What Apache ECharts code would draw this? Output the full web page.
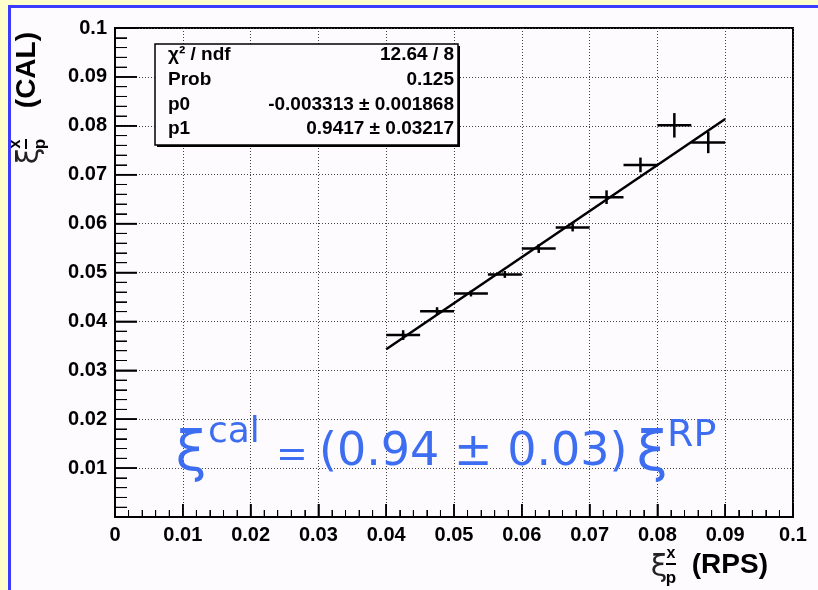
<!DOCTYPE html>
<html>
<head>
<meta charset="utf-8">
<script src="https://cdn.jsdelivr.net/npm/echarts@6.0.0/dist/echarts.min.js"></script>
<style>
  html, body { margin: 0; padding: 0; background: #ffffcc; }
  #wrap { position: relative; width: 818px; height: 590px; overflow: hidden; }
  #paper { position: absolute; left: 8px; top: 5px; width: 830px; height: 600px;
           background: #fefbfe; border: 3px solid #3c3cff; box-sizing: border-box; }
  #main { position: absolute; left: 0; top: 0; width: 818px; height: 590px; }
</style>
</head>
<body>
<div id="wrap"><div id="paper"></div><div id="main"></div></div>
<script>
// bin centres and measured xi (CAL) per bin
const xCenters = [0.0425, 0.0475, 0.0525, 0.0575, 0.0625, 0.0675, 0.0725, 0.0775, 0.0825, 0.0875];
const yValues = [0.0372, 0.0421, 0.0457, 0.0496, 0.0549, 0.0592, 0.0654, 0.0720, 0.0801, 0.0766];
const xHalfWidths = [0.0025, 0.0025, 0.0025, 0.0025, 0.0025, 0.0025, 0.0025, 0.0025, 0.0025, 0.0025];
const yErrors = [0.0010, 0.0008, 0.0006, 0.0007, 0.0009, 0.0008, 0.0014, 0.0015, 0.0025, 0.0022];

// fitted straight line, end points
const fitX = [0.04, 0.09];
const fitY = [0.0343, 0.0814];

// major tick positions (both axes), 5 minor divisions each
const xTickValues = [0, 0.01, 0.02, 0.03, 0.04, 0.05, 0.06, 0.07, 0.08, 0.09, 0.1];
const yTickValues = [0, 0.01, 0.02, 0.03, 0.04, 0.05, 0.06, 0.07, 0.08, 0.09, 0.1];
const tickStep = 0.01;

const statNames = ['χ² / ndf', 'Prob', 'p0', 'p1'];
const statValues = ['12.64 / 8', '0.125', '-0.003313 ± 0.001868', '0.9417 ± 0.03217'];

const chart = echarts.init(document.getElementById('main'));

const blue = '#3d6df0';

// ROOT-like axis title: xi with x superscript and p-bar subscript, then text
function axisTitle(x, y, rotation, text, gap) {
  const u = -109 - gap;
  return [
    { type: 'text', x: x, y: y, rotation: rotation, z: 20,
      style: { text: text, align: 'right', verticalAlign: 'middle', font: 'bold 28px "Liberation Sans"', fill: '#000' } },
    { type: 'group', x: x, y: y, rotation: rotation, z: 20,
      children: [
        { type: 'text', x: u, y: 3, z: 20, style: { text: 'ξ', align: 'center', verticalAlign: 'middle',
          font: '30px "DejaVu Sans"', fill: '#222' } },
        { type: 'text', x: u + 12, y: -11, z: 20, style: { text: 'x', align: 'center', verticalAlign: 'middle',
          font: 'bold 16px "Liberation Sans"', fill: '#000' } },
        { type: 'line', z: 20, shape: { x1: u + 7, y1: -1, x2: u + 17, y2: -1 }, style: { stroke: '#000', lineWidth: 2 } },
        { type: 'text', x: u + 12, y: 13, z: 20, style: { text: 'p', align: 'center', verticalAlign: 'middle',
          font: 'bold 17px "Liberation Sans"', fill: '#000' } }
      ]
    }
  ];
}

const statsItems = [
  { type: 'rect', z: 10, shape: { x: 157, y: 46, width: 303, height: 101 }, style: { fill: '#000' } },
  { type: 'rect', z: 11, shape: { x: 155, y: 44, width: 303, height: 101 },
    style: { fill: '#fefbfe', stroke: '#000', lineWidth: 1.5 } }
];
const rowY = [55, 80, 105, 129];
statNames.forEach((name, i) => {
  statsItems.push({ type: 'text', z: 12, x: 168, y: rowY[i], style: { text: name, align: 'left', verticalAlign: 'middle',
    font: 'bold 19px "Liberation Sans"', fill: '#000' } });
  statsItems.push({ type: 'text', z: 12, x: 454, y: rowY[i], style: { text: statValues[i], align: 'right', verticalAlign: 'middle',
    font: 'bold 19px "Liberation Sans"', fill: '#000' } });
});

// inward ROOT-style ticks drawn through the axis scales
function tickSeries(values, onX, majorLen, minorLen) {
  return {
    type: 'custom',
    silent: true,
    z: 7,
    data: values.map(v => onX ? [v, 0] : [0, v]),
    renderItem: (params, api) => {
      const v = onX ? api.value(0) : api.value(1);
      const at = t => api.coord(onX ? [t, 0] : [0, t]);
      const seg = (t, len, w) => {
        const p = at(t);
        const shape = onX ? { x1: p[0], y1: p[1], x2: p[0], y2: p[1] - len }
                          : { x1: p[0], y1: p[1], x2: p[0] + len, y2: p[1] };
        return { type: 'line', shape: shape, style: { stroke: '#000', lineWidth: w } };
      };
      const children = [seg(v, majorLen, 1.5)];
      if (params.dataIndex < values.length - 1) {
        for (let k = 1; k < 5; k++) children.push(seg(v + k * tickStep / 5, minorLen, 1));
      }
      return { type: 'group', children: children };
    }
  };
}

const option = {
  animation: false,
  grid: { left: 115, right: 25, top: 28, bottom: 73, show: true, borderColor: '#000', borderWidth: 2,
    backgroundColor: 'rgba(0,0,0,0)' },
  xAxis: {
    type: 'value', min: 0, max: 0.1, interval: tickStep,
    axisLine: { show: true, onZero: false, lineStyle: { color: '#000', width: 2 } },
    axisTick: { show: true, inside: true, length: 13, lineStyle: { color: '#000', width: 1.5 } },
    minorTick: { show: true, splitNumber: 5, length: 7, lineStyle: { color: '#000', width: 1 } },
    splitLine: { show: true, lineStyle: { color: '#444', width: 1, type: [1, 2] } },
    axisLabel: { fontSize: 20, fontWeight: 'bold', color: '#000' }
  },
  yAxis: {
    type: 'value', min: 0, max: 0.1, interval: tickStep,
    axisLine: { show: true, onZero: false, lineStyle: { color: '#000', width: 2 } },
    axisTick: { show: true, inside: true, length: 22, lineStyle: { color: '#000', width: 1.5 } },
    minorTick: { show: true, splitNumber: 5, length: 12, lineStyle: { color: '#000', width: 1 } },
    splitLine: { show: true, lineStyle: { color: '#444', width: 1, type: [1, 2] } },
    axisLabel: { fontSize: 20, fontWeight: 'bold', color: '#000', showMinLabel: false }
  },
  series: [
    tickSeries(xTickValues, true, 13, 7),
    tickSeries(yTickValues, false, 22, 12),
    {
      type: 'custom',
      z: 5,
      data: xCenters.map((x, i) => [x, yValues[i], xHalfWidths[i], yErrors[i]]),
      renderItem: (params, api) => {
        const x = api.value(0), y = api.value(1), dx = api.value(2), dy = api.value(3);
        const l = api.coord([x - dx, y]), r = api.coord([x + dx, y]);
        const t = api.coord([x, y + dy]), b = api.coord([x, y - dy]);
        const st = { stroke: '#000', lineWidth: 2.5 };
        return {
          type: 'group',
          children: [
            { type: 'line', shape: { x1: l[0], y1: l[1], x2: r[0], y2: r[1] }, style: st },
            { type: 'line', shape: { x1: t[0], y1: t[1], x2: b[0], y2: b[1] }, style: st }
          ]
        };
      }
    },
    {
      type: 'line',
      z: 6,
      data: fitX.map((x, i) => [x, fitY[i]]),
      symbol: 'none',
      lineStyle: { color: '#000', width: 2.5 }
    }
  ]
};

chart.setOption(option);
chart.getZr().storage.getDisplayList(true);

// stats box, axis titles and the hand-written result go on top afterwards
chart.setOption({
  graphic: statsItems.concat(
    axisTitle(768, 565, 0, '(RPS)', 0),
    axisTitle(27, 32, Math.PI / 2, '(CAL)', 15),
    [
      { type: 'text', z: 12, x: 191, y: 455, style: { text: 'ξ', align: 'center', verticalAlign: 'middle',
        font: '56px "DejaVu Sans"', fill: blue } },
      { type: 'text', z: 12, x: 208, y: 433, style: { text: 'cal', align: 'left', verticalAlign: 'middle',
        font: '36px "DejaVu Sans"', fill: blue } },
      { type: 'text', z: 12, x: 292, y: 456, style: { text: '=', align: 'center', verticalAlign: 'middle',
        font: '38px "DejaVu Sans"', fill: blue } },
      { type: 'text', z: 12, x: 319, y: 453, style: { text: '(0.94 ± 0.03)', align: 'left', verticalAlign: 'middle',
        font: '46px "DejaVu Sans"', fill: blue } },
      { type: 'text', z: 12, x: 652, y: 455, style: { text: 'ξ', align: 'center', verticalAlign: 'middle',
        font: '56px "DejaVu Sans"', fill: blue } },
      { type: 'text', z: 12, x: 667, y: 436, style: { text: 'RP', align: 'left', verticalAlign: 'middle',
        font: '38px "DejaVu Sans"', fill: blue } }
    ]
  )
});
</script>
</body>
</html>
